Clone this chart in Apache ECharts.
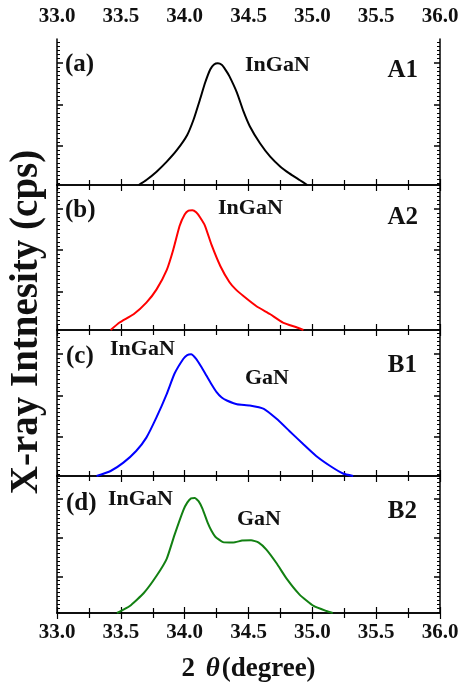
<!DOCTYPE html>
<html>
<head>
<meta charset="utf-8">
<script src="https://cdn.jsdelivr.net/npm/echarts@6/dist/echarts.min.js"></script>
<style>
  html, body { margin: 0; padding: 0; background: #fff; }
  #main { width: 462px; height: 684px; }
</style>
</head>
<body>
<div id="main"></div>
<script>
// 2θ (degree) and intensity values, one pair of arrays per panel
var xA = [33.64, 33.70, 33.78, 33.86, 33.94, 34.02, 34.07, 34.12, 34.16, 34.20, 34.23, 34.26, 34.29, 34.32, 34.35, 34.41, 34.46, 34.51, 34.59, 34.67, 34.75, 34.82, 34.90, 34.96];
var yA = [0, 0.12, 0.32, 0.56, 0.84, 1.20, 1.57, 2.05, 2.45, 2.77, 2.89, 2.92, 2.88, 2.76, 2.61, 2.21, 1.77, 1.41, 1.00, 0.68, 0.44, 0.28, 0.12, 0];

var xB = [33.42, 33.49, 33.60, 33.70, 33.78, 33.86, 33.91, 33.96, 34.00, 34.03, 34.06, 34.09, 34.12, 34.16, 34.21, 34.28, 34.35, 34.40, 34.46, 34.56, 34.67, 34.77, 34.88, 34.93];
var yB = [0, 0.18, 0.38, 0.66, 0.98, 1.45, 1.93, 2.51, 2.79, 2.88, 2.89, 2.84, 2.72, 2.51, 2.06, 1.54, 1.16, 0.98, 0.82, 0.58, 0.38, 0.18, 0.06, 0];

var xC = [33.31, 33.42, 33.52, 33.62, 33.70, 33.78, 33.86, 33.92, 33.99, 34.02, 34.05, 34.09, 34.13, 34.17, 34.21, 34.25, 34.29, 34.33, 34.41, 34.51, 34.62, 34.72, 34.82, 34.93, 35.03, 35.14, 35.24, 35.32];
var yC = [0, 0.12, 0.32, 0.60, 0.92, 1.41, 1.97, 2.45, 2.81, 2.90, 2.92, 2.81, 2.62, 2.41, 2.20, 2.01, 1.88, 1.81, 1.72, 1.69, 1.61, 1.37, 1.08, 0.76, 0.48, 0.24, 0.06, 0];

var xD = [33.47, 33.57, 33.68, 33.78, 33.86, 33.92, 33.99, 34.02, 34.05, 34.08, 34.11, 34.14, 34.18, 34.21, 34.24, 34.30, 34.38, 34.45, 34.52, 34.58, 34.64, 34.72, 34.80, 34.90, 35.01, 35.11, 35.16];
var yD = [0, 0.18, 0.51, 0.95, 1.39, 1.99, 2.63, 2.82, 2.93, 2.94, 2.85, 2.66, 2.31, 2.10, 1.95, 1.81, 1.80, 1.85, 1.86, 1.80, 1.62, 1.27, 0.87, 0.47, 0.18, 0.05, 0];

// tick labels of the 2θ axis, and y tick positions (no labels on y)
var xTickLabels = ['33.0', '33.5', '34.0', '34.5', '35.0', '35.5', '36.0'];
var yMajorTicks = [0.93, 1.93, 2.93];

var panels = [
  { x: xA, y: yA, color: '#000000' },
  { x: xB, y: yB, color: '#ff0000' },
  { x: xC, y: yC, color: '#0000ff' },
  { x: xD, y: yD, color: '#128012' }
];

var gridTops = [39, 185, 330, 476];
var gridHeights = [146, 145, 146, 146];
var font = 'Liberation Serif';

// minor y ticks, every 0.1 between the major ones
var yMinorTicks = [];
for (var v = 0.03; v < 3.5; v += 0.1) {
  var r = Math.round(v * 100) / 100;
  if (yMajorTicks.indexOf(r) < 0) yMinorTicks.push(r);
}

var grids = [], xAxes = [], yAxes = [], series = [];

for (var i = 0; i < panels.length; i++) {
  var p = panels[i];
  grids.push({ left: 57, right: 22, top: gridTops[i], height: gridHeights[i] });

  // bottom and top 2θ axes of this panel
  ['bottom', 'top'].forEach(function (pos) {
    var showLabel = (pos === 'top' && i === 0) || (pos === 'bottom' && i === 3);
    var ax = {
      type: 'value', gridIndex: i, position: pos,
      min: 33, max: 36, interval: 0.5,
      axisLine: { show: true, lineStyle: { color: '#000', width: 1.5 } },
      axisTick: { show: true, inside: true, length: 6, lineStyle: { color: '#000', width: 1.2 } },
      minorTick: { show: true, splitNumber: 2, length: 5, lineStyle: { color: '#000', width: 1.2 } },
      splitLine: { show: false },
      axisLabel: {
        show: showLabel,
        margin: pos === 'top' ? 12 : 9,
        fontFamily: font, fontWeight: 'bold', fontSize: 21, color: '#111',
        formatter: function (val) {
          var k = Math.round((val - 33) / 0.5);
          return xTickLabels[k] || '';
        }
      }
    };
    if (pos === 'bottom' && i === 3) {
      ax.name = '{n|2 }{t|θ}{n|(degree)}';
      ax.nameLocation = 'middle';
      ax.nameGap = 43;
      ax.nameTextStyle = {
        rich: {
          n: { fontFamily: font, fontWeight: 'bold', fontSize: 27, color: '#111' },
          t: { fontFamily: font, fontWeight: 'bold', fontStyle: 'italic', fontSize: 27, color: '#111', padding: [0, 2, 0, 4] }
        }
      };
    }
    xAxes.push(ax);
  });

  // left and right intensity axes: one for major ticks, one for minor ticks
  ['left', 'right'].forEach(function (pos) {
    yAxes.push({
      type: 'value', gridIndex: i, position: pos, min: 0, max: 3.5,
      axisLine: { show: true, lineStyle: { color: '#000', width: 1.5 } },
      axisTick: { show: true, inside: true, length: 6, customValues: yMajorTicks, lineStyle: { color: '#000', width: 1.5 } },
      axisLabel: { show: false },
      splitLine: { show: false }
    });
    yAxes.push({
      type: 'value', gridIndex: i, position: pos, min: 0, max: 3.5,
      axisLine: { show: false },
      axisTick: { show: true, inside: true, length: 3, customValues: yMinorTicks, lineStyle: { color: '#000', width: 1 } },
      axisLabel: { show: false },
      splitLine: { show: false }
    });
  });

  var data = [];
  for (var j = 0; j < p.x.length; j++) data.push([p.x[j], p.y[j]]);

  series.push({
    type: 'line',
    xAxisIndex: i * 2,
    yAxisIndex: i * 4,
    data: data,
    smooth: 0.15,
    showSymbol: false,
    lineStyle: { color: p.color, width: 2 },
    silent: true
  });
}

// panel labels and peak names
var txt = function (x, y, text, align, size) {
  return {
    type: 'text', x: x, y: y,
    style: {
      text: text, fill: '#111', align: align || 'left', verticalAlign: 'middle',
      font: 'bold ' + (size || 22) + 'px "' + font + '"'
    }
  };
};

var graphics = [
  txt(65, 65, '(a)', 'left', 25), txt(245, 65, 'InGaN'), txt(418, 71, 'A1', 'right', 25),
  txt(65, 211, '(b)', 'left', 25), txt(218, 208, 'InGaN'), txt(418, 218, 'A2', 'right', 25),
  txt(66, 357, '(c)', 'left', 25), txt(110, 349, 'InGaN'), txt(245, 378, 'GaN'), txt(417, 366, 'B1', 'right', 25),
  txt(66, 504, '(d)', 'left', 25), txt(108, 499, 'InGaN'), txt(237, 519, 'GaN'), txt(417, 512, 'B2', 'right', 25),
  {
    type: 'text', x: 27, y: 322, rotation: Math.PI / 2,
    style: {
      text: 'X-ray Intnesity (cps)', fill: '#111', align: 'center', verticalAlign: 'middle',
      font: 'bold 39px "' + font + '"'
    }
  }
];

var myChart = echarts.init(document.getElementById('main'));
var option = {
  animation: false,
  backgroundColor: '#fff',
  grid: grids,
  xAxis: xAxes,
  yAxis: yAxes,
  series: series,
  graphic: graphics
};
myChart.setOption(option);
</script>
</body>
</html>
